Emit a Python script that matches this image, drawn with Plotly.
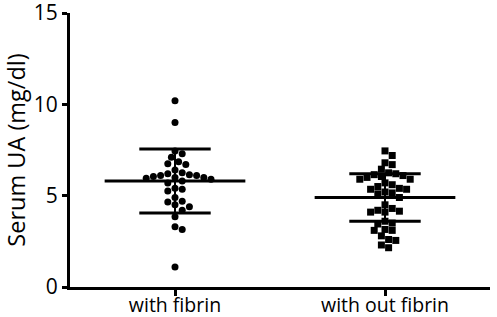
import plotly.graph_objects as go

categories = ["with fibrin", "with out fibrin"]
with_fibrin = [10.2, 9.0, 7.45, 7.3, 7.1, 6.85, 6.75, 6.7, 6.4, 6.25, 6.2, 6.15, 6.1, 6.1,
               6.05, 6.0, 6.0, 5.95, 5.9, 5.8, 5.7, 5.4, 5.35, 5.25, 4.9, 4.7, 4.65, 4.5,
               4.4, 4.2, 3.85, 3.3, 3.15, 1.1]
without_fibrin = [7.45, 7.2, 6.8, 6.7, 6.45, 6.25, 6.2, 6.15, 6.1, 6.05, 6.0, 5.9, 5.9, 5.7,
                  5.6, 5.5, 5.4, 5.35, 5.35, 5.2, 5.15, 5.1, 4.9, 4.5, 4.3, 4.2, 4.15, 4.1,
                  4.1, 3.6, 3.5, 3.45, 3.15, 3.1, 3.1, 2.8, 2.6, 2.55, 2.3, 2.15]
means = [5.8, 4.9]
sds = [1.75, 1.3]
y_ticks = [0, 5, 10, 15]

W, H = 497, 317
ML, MR, MT, MB = 70, 7, 13, 30
px_per_x = (W - ML - MR) / 2.0
px_per_y = (H - MT - MB) / 15.0


def beeswarm(vals, d=7.2):
    placed = []
    offs = [0.0] * len(vals)
    order = sorted(range(len(vals)), key=lambda i: -vals[i])
    for i in order:
        yp = vals[i] * px_per_y
        k = 0
        while True:
            cands = [0.0] if k == 0 else [k * d * 0.5, -k * d * 0.5]
            ok = None
            for c in cands:
                if all((c - px) ** 2 + (yp - py) ** 2 >= (d * 0.98) ** 2 for px, py in placed):
                    ok = c
                    break
            if ok is not None:
                placed.append((ok, yp))
                offs[i] = ok / px_per_x
                break
            k += 1
    return offs


fig = go.Figure()
groups = [with_fibrin, without_fibrin]
symbols = ["circle", "square"]
for gi, vals in enumerate(groups):
    offs = beeswarm(vals)
    fig.add_trace(go.Scatter(
        x=[gi + o for o in offs], y=vals, mode="markers",
        marker=dict(symbol=symbols[gi], size=7, color="black", line=dict(width=0)),
        showlegend=False, hoverinfo="skip"))
    m, s = means[gi], sds[gi]
    line = dict(color="black", width=3)
    fig.add_trace(go.Scatter(x=[gi - 0.335, gi + 0.335], y=[m, m], mode="lines",
                             line=line, showlegend=False))
    for v in (m + s, m - s):
        fig.add_trace(go.Scatter(x=[gi - 0.17, gi + 0.17], y=[v, v], mode="lines",
                                 line=line, showlegend=False))
    fig.add_trace(go.Scatter(x=[gi, gi], y=[m - s, m + s], mode="lines",
                             line=dict(color="black", width=2), showlegend=False))

family = "Open Sans, Lato, sans-serif"
yfont = dict(family=family, size=21, color="black")
tfont = dict(family=family, size=23.5, color="black")
xfont = dict(family=family, size=19.5, color="black")
fig.update_layout(
    width=W, height=H, margin=dict(l=ML, r=MR, t=MT, b=MB, autoexpand=False),
    paper_bgcolor="white", plot_bgcolor="white", font=yfont,
    xaxis=dict(range=[-0.5, 1.5], tickmode="array", tickvals=[0, 1], ticktext=categories,
               showline=True, linecolor="black", linewidth=3, ticks="outside",
               ticklen=6, tickwidth=3, tickcolor="black", showgrid=False, zeroline=False,
               tickfont=xfont, automargin=False, ticklabeloverflow="allow",
               ticklabelstandoff=-7),
    yaxis=dict(range=[0, 15], tickmode="array", tickvals=y_ticks,
               showline=True, linecolor="black", linewidth=3, ticks="outside",
               ticklen=5, tickwidth=3, tickcolor="black", showgrid=False, zeroline=False,
               tickfont=yfont, automargin=False, ticklabeloverflow="allow",
               title=dict(text="Serum UA (mg/dl)", font=tfont, standoff=2)),
)
fig.write_html("out.html", config={"displayModeBar": False},
               post_script="document.body.style.margin='0';document.body.style.overflow='hidden';")
